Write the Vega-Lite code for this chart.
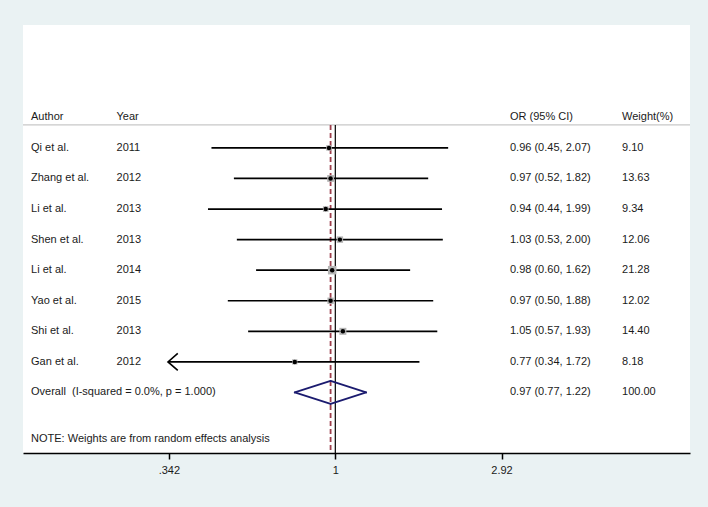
{
  "$schema": "https://vega.github.io/schema/vega-lite/v6.json",
  "width": 667,
  "height": 428,
  "autosize": {"type": "none"},
  "padding": {"left": 23, "top": 25, "right": 18, "bottom": 54},
  "background": "#eaf2f3",
  "view": {"fill": "white", "stroke": null},
  "config": {
    "text": {"font": "Liberation Sans", "fontSize": 11, "color": "#1a1a1a", "baseline": "middle", "align": "left"}
  },
  "data": {
    "values": [
      {"row": 1, "author": "Qi et al.", "year": "2011", "or": 0.96, "lo": 0.45, "hi": 2.07, "ci": "0.96 (0.45, 2.07)", "weight": 9.10, "wt": "9.10", "type": "study"},
      {"row": 2, "author": "Zhang et al.", "year": "2012", "or": 0.97, "lo": 0.52, "hi": 1.82, "ci": "0.97 (0.52, 1.82)", "weight": 13.63, "wt": "13.63", "type": "study"},
      {"row": 3, "author": "Li et al.", "year": "2013", "or": 0.94, "lo": 0.44, "hi": 1.99, "ci": "0.94 (0.44, 1.99)", "weight": 9.34, "wt": "9.34", "type": "study"},
      {"row": 4, "author": "Shen et al.", "year": "2013", "or": 1.03, "lo": 0.53, "hi": 2.00, "ci": "1.03 (0.53, 2.00)", "weight": 12.06, "wt": "12.06", "type": "study"},
      {"row": 5, "author": "Li et al.", "year": "2014", "or": 0.98, "lo": 0.60, "hi": 1.62, "ci": "0.98 (0.60, 1.62)", "weight": 21.28, "wt": "21.28", "type": "study"},
      {"row": 6, "author": "Yao et al.", "year": "2015", "or": 0.97, "lo": 0.50, "hi": 1.88, "ci": "0.97 (0.50, 1.88)", "weight": 12.02, "wt": "12.02", "type": "study"},
      {"row": 7, "author": "Shi et al.", "year": "2013", "or": 1.05, "lo": 0.57, "hi": 1.93, "ci": "1.05 (0.57, 1.93)", "weight": 14.40, "wt": "14.40", "type": "study"},
      {"row": 8, "author": "Gan et al.", "year": "2012", "or": 0.77, "lo": 0.34, "hi": 1.72, "ci": "0.77 (0.34, 1.72)", "weight": 8.18, "wt": "8.18", "type": "study"},
      {"row": 9, "author": "Overall\u00a0 (I-squared = 0.0%, p = 1.000)", "year": "", "or": 0.97, "lo": 0.77, "hi": 1.22, "ci": "0.97 (0.77, 1.22)", "weight": 100.00, "wt": "100.00", "type": "overall"}
    ]
  },
  "encoding": {
    "y": {"field": "row", "type": "quantitative", "scale": {"domain": [-3.02, 10.98], "reverse": true, "nice": false, "zero": false}, "axis": null}
  },
  "layer": [
    {
      "mark": {"type": "rule", "color": "#c8c8c8", "strokeWidth": 1.2},
      "encoding": {"y": {"datum": 0.25}, "x": {"datum": 0.1335}, "x2": {"datum": 9.844}},
      "transform": [{"filter": "datum.row == 1"}]
    },
    {
      "mark": {"type": "rule", "color": "black", "strokeWidth": 1.2},
      "transform": [{"filter": "datum.row == 1"}],
      "encoding": {
        "x": {"datum": 1, "type": "quantitative", "scale": {"type": "log", "domain": [0.1335, 9.844], "nice": false, "zero": false},
          "axis": {"values": [0.342, 1, 2.92], "labelExpr": "datum.value < 0.5 ? '.342' : datum.value > 2 ? '2.92' : '1'", "title": null, "grid": false,
            "domainColor": "black", "domainWidth": 1.5, "tickColor": "black", "tickWidth": 1.5, "tickSize": 6,
            "labelFont": "Liberation Sans", "labelFontSize": 11, "labelColor": "#1a1a1a", "labelPadding": 5}},
        "y": {"datum": 0.25},
        "y2": {"datum": 10.98}
      }
    },
    {
      "mark": {"type": "rule", "color": "#9e3f4c", "strokeWidth": 1.8, "strokeDash": [5, 3]},
      "transform": [{"filter": "datum.type == 'overall'"}],
      "encoding": {
        "x": {"field": "or", "type": "quantitative"},
        "y": {"datum": 0.25},
        "y2": {"datum": 10.98}
      }
    },
    {
      "mark": {"type": "rule", "color": "black", "strokeWidth": 1.7},
      "transform": [{"filter": "datum.type == 'study'"}],
      "encoding": {
        "x": {"field": "lo", "type": "quantitative"},
        "x2": {"field": "hi"}
      }
    },
    {
      "mark": {"type": "point", "shape": "M 1.15 -1 L 0 0 L 1.15 1", "filled": false, "color": "black", "strokeWidth": 1.6, "size": 289, "opacity": 1},
      "transform": [{"filter": "datum.type == 'study' && datum.lo < 0.342"}],
      "encoding": {
        "x": {"field": "lo", "type": "quantitative"}
      }
    },
    {
      "mark": {"type": "point", "shape": "square", "filled": true, "color": "#b4b4b4", "opacity": 1},
      "transform": [{"filter": "datum.type == 'study'"}],
      "encoding": {
        "x": {"field": "or", "type": "quantitative"},
        "size": {"field": "weight", "type": "quantitative", "scale": {"domain": [0, 21.28], "range": [0, 72], "zero": true}, "legend": null}
      }
    },
    {
      "mark": {"type": "point", "shape": "circle", "filled": true, "color": "black", "size": 20, "opacity": 1},
      "transform": [{"filter": "datum.type == 'study'"}],
      "encoding": {
        "x": {"field": "or", "type": "quantitative"}
      }
    },
    {
      "mark": {"type": "rule", "color": "#1b1b6f", "strokeWidth": 1.8, "strokeCap": "round", "y2Offset": -11.5},
      "transform": [{"filter": "datum.type == 'overall'"}],
      "encoding": {"x": {"field": "lo", "type": "quantitative"}, "x2": {"field": "or"}, "y2": {"field": "row"}}
    },
    {
      "mark": {"type": "rule", "color": "#1b1b6f", "strokeWidth": 1.8, "strokeCap": "round", "y2Offset": 11.5},
      "transform": [{"filter": "datum.type == 'overall'"}],
      "encoding": {"x": {"field": "lo", "type": "quantitative"}, "x2": {"field": "or"}, "y2": {"field": "row"}}
    },
    {
      "mark": {"type": "rule", "color": "#1b1b6f", "strokeWidth": 1.8, "strokeCap": "round", "yOffset": -11.5},
      "transform": [{"filter": "datum.type == 'overall'"}],
      "encoding": {"x": {"field": "or", "type": "quantitative"}, "x2": {"field": "hi"}, "y2": {"field": "row"}}
    },
    {
      "mark": {"type": "rule", "color": "#1b1b6f", "strokeWidth": 1.8, "strokeCap": "round", "yOffset": 11.5},
      "transform": [{"filter": "datum.type == 'overall'"}],
      "encoding": {"x": {"field": "or", "type": "quantitative"}, "x2": {"field": "hi"}, "y2": {"field": "row"}}
    },
    {
      "mark": {"type": "text"},
      "encoding": {"x": {"datum": 0.1406}, "text": {"field": "author"}}
    },
    {
      "mark": {"type": "text"},
      "encoding": {"x": {"datum": 0.244}, "text": {"field": "year"}}
    },
    {
      "mark": {"type": "text"},
      "encoding": {"x": {"datum": 3.084}, "text": {"field": "ci"}}
    },
    {
      "mark": {"type": "text"},
      "encoding": {"x": {"datum": 6.351}, "text": {"field": "wt"}}
    },
    {
      "mark": {"type": "text"},
      "transform": [{"filter": "datum.row == 1"}],
      "encoding": {"x": {"datum": 0.1406}, "y": {"datum": 0}, "text": {"value": "Author"}}
    },
    {
      "mark": {"type": "text"},
      "transform": [{"filter": "datum.row == 1"}],
      "encoding": {"x": {"datum": 0.244}, "y": {"datum": 0}, "text": {"value": "Year"}}
    },
    {
      "mark": {"type": "text"},
      "transform": [{"filter": "datum.row == 1"}],
      "encoding": {"x": {"datum": 3.084}, "y": {"datum": 0}, "text": {"value": "OR (95% CI)"}}
    },
    {
      "mark": {"type": "text"},
      "transform": [{"filter": "datum.row == 1"}],
      "encoding": {"x": {"datum": 6.351}, "y": {"datum": 0}, "text": {"value": "Weight(%)"}}
    },
    {
      "mark": {"type": "text"},
      "transform": [{"filter": "datum.row == 1"}],
      "encoding": {"x": {"datum": 0.1406}, "y": {"datum": 10.53}, "text": {"value": "NOTE: Weights are from random effects analysis"}}
    }
  ]
}
